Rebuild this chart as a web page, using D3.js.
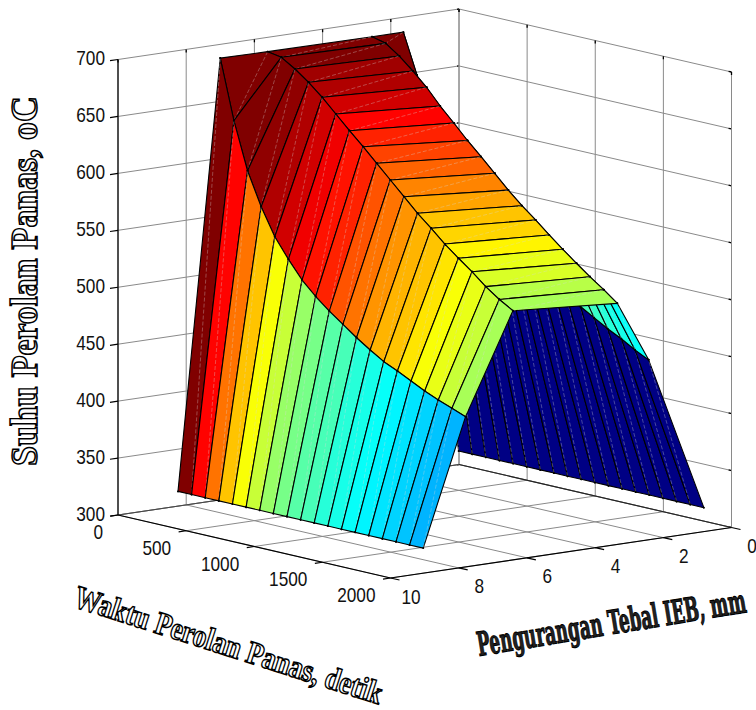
<!DOCTYPE html>
<html>
<head>
<meta charset="utf-8">
<script src="https://cdn.jsdelivr.net/npm/d3@7"></script>
<style>
  body { margin: 0; background: #fff; }
  svg { display: block; }
  text { opacity: 0.999; }
  .tick { font-family: "Liberation Sans", Arial, sans-serif; font-size: 21px; fill: #111; }
  .title { font-weight: bold; stroke: #000; }
</style>
</head>
<body>
<script>
// axis ticks
const timeTicks = [0, 500, 1000, 1500, 2000]
const thickTicks = [0, 2, 4, 6, 8, 10]
const tempTicks = [300, 350, 400, 450, 500, 550, 600, 650, 700]

// surface grid
const times = [200, 300, 400, 500, 600, 700, 800, 900, 1000, 1100, 1200, 1300, 1400, 1500, 1600, 1700, 1800, 1900, 2000]
const thickness = [0.81, 2.43, 3.35, 6.41, 7.8, 9.04]

const tempAt081 = [321, 321, 321, 321, 321, 321, 321, 321, 321, 321, 321, 321, 321, 321, 321, 321, 321, 321, 321]
const tempAt243 = [696, 661, 628, 602, 580, 563, 549, 537, 527, 518, 510, 503, 496, 491, 484, 477, 471, 464, 458]
const tempAt335 = [696, 693, 684.6, 674.2, 662.7, 649, 636.9, 624.3, 612.8, 601, 589, 578.1, 568.3, 557.9, 548.1, 538.6, 529.5, 520.9, 511.7]
const tempAt641 = [696.5, 694.3, 686.8, 677.9, 667.5, 655.6, 643.7, 632.4, 620.6, 608.7, 596.8, 585, 574.6, 563.5, 553.8, 544.7, 534.4, 525.9, 518.8]
const tempAt780 = [697, 644.8, 603.6, 574.8, 551.2, 534.1, 518.7, 507, 497, 488.1, 479.1, 471.1, 463.6, 458.2, 452.2, 446.2, 441, 436.5, 431.9]
const tempAt904 = [322, 322, 322, 322, 322, 322, 322, 322, 322, 322, 322, 322, 322, 322, 322, 322, 322, 322, 322]
const temps = [tempAt081, tempAt243, tempAt335, tempAt641, tempAt780, tempAt904]

const width = 756
const height = 710

const svg = d3.select("body").append("svg")
    .attr("width", width)
    .attr("height", height)

// axis box in screen space, the view is orthographic
const tScale = d3.scaleLinear().domain([0, 2000]).range([0, 1])
const sScale = d3.scaleLinear().domain([10, 0]).range([0, 1])
const zScale = d3.scaleLinear().domain([300, 700]).range([0, 1])

function project(t, s, z) {
  const u = tScale(t), v = sScale(s), w = zScale(z)
  return [118 + 272.5 * u + 341 * v, 515 + 63 * u - 50.5 * v - 455.5 * w]
}

const line = d3.line()

function seg(g, a, b, color, w) {
  g.append("path")
      .attr("d", line([a, b]))
      .attr("fill", "none")
      .attr("stroke", color)
      .attr("stroke-width", w)
}

// small tick at the end of a grid line, pointing inwards along it
function stub(g, a, b, len) {
  const dx = b[0] - a[0], dy = b[1] - a[1], d = Math.hypot(dx, dy)
  seg(g, a, [a[0] + dx / d * len, a[1] + dy / d * len], "#000", 1.3)
}

const grid = svg.append("g")
const gridColor = "#8a8a8a"

for (const z of tempTicks) {
  const a = project(0, 10, z), b = project(0, 0, z), c = project(2000, 0, z)
  seg(grid, a, b, gridColor, 1)
  seg(grid, b, c, gridColor, 1)
  stub(grid, b, a, 2)
  stub(grid, c, b, 3)
}
for (const t of timeTicks) {
  const a = project(t, 10, 300), b = project(t, 0, 300), c = project(t, 0, 700)
  seg(grid, a, b, gridColor, 1)
  seg(grid, b, c, gridColor, 1)
  stub(grid, c, b, 3)
}
for (const s of thickTicks) {
  const a = project(0, s, 300), b = project(2000, s, 300), c = project(0, s, 700)
  seg(grid, a, b, gridColor, 1)
  seg(grid, a, c, gridColor, 1)
  stub(grid, c, a, 3)
}

// floor edges at the back
seg(grid, project(0, 10, 300), project(0, 0, 300), "#444", 1)
seg(grid, project(0, 0, 300), project(2000, 0, 300), "#222", 1.1)

// matlab jet, 64 steps
const jet = d3.scaleLinear()
    .domain([0, 1 / 8, 3 / 8, 5 / 8, 7 / 8, 1])
    .range(["rgb(0,0,132)", "rgb(0,0,255)", "rgb(0,255,255)", "rgb(255,255,0)", "rgb(255,0,0)", "rgb(128,0,0)"])
const zExtent = d3.extent(temps.flat())
const level = d3.scaleQuantize().domain(zExtent).range(d3.range(64).map(i => i / 63))
const color = z => jet(level(z))

// height field, so drawing far rows first is enough
const surface = svg.append("g")
for (let j = 0; j < thickness.length - 1; j++) {
  for (let i = 0; i < times.length - 1; i++) {
    const p00 = project(times[i], thickness[j], temps[j][i])
    const p10 = project(times[i + 1], thickness[j], temps[j][i + 1])
    const p11 = project(times[i + 1], thickness[j + 1], temps[j + 1][i + 1])
    const p01 = project(times[i], thickness[j + 1], temps[j + 1][i])
    surface.append("path")
        .attr("d", line([p00, p10, p11, p01]) + "Z")
        .attr("fill", color(temps[j][i]))
        .attr("stroke", "#000")
        .attr("stroke-width", 1.1)
        .attr("stroke-linejoin", "round")
    // the seam down each quad
    surface.append("path")
        .attr("d", line([p00, p11]))
        .attr("fill", "none")
        .attr("stroke", "#d8d8d8")
        .attr("stroke-opacity", 0.42)
        .attr("stroke-width", 0.8)
        .attr("stroke-dasharray", "4 2")
    for (const p of [p00, p10, p11, p01]) {
      surface.append("circle")
          .attr("cx", p[0])
          .attr("cy", p[1])
          .attr("r", 1)
          .attr("fill", "#000")
    }
  }
}

// front axes
const axes = svg.append("g")
seg(axes, project(0, 10, 300), project(0, 10, 700), "#000", 1.2)
seg(axes, project(0, 10, 300), project(2000, 10, 300), "#000", 1.2)
seg(axes, project(2000, 10, 300), project(2000, 0, 300), "#000", 1.2)

function label(text, x, y, anchor) {
  axes.append("text")
      .attr("class", "tick")
      .attr("text-anchor", anchor)
      .attr("transform", `translate(${x},${y}) scale(0.82,1)`)
      .attr("dy", "0.36em")
      .text(text)
}

for (const z of tempTicks) {
  const p = project(0, 10, z)
  seg(axes, p, [p[0] - 8, p[1] + 1.2], "#000", 1.2)
  label(z, p[0] - 13, p[1] - 2, "end")
}
for (const t of timeTicks) {
  const p = project(t, 10, 300)
  seg(axes, p, [p[0] - 7.5, p[1] + 1.1], "#000", 1.2)
  label(t, p[0] - 15, p[1] + 16.5, "end")
}
for (const s of thickTicks) {
  const p = project(2000, s, 300)
  seg(axes, p, [p[0] + 9, p[1] + 2], "#000", 1.2)
  label(s, p[0] + 20.5, p[1] + 18, "middle")
}

// squeezed with a scale so the outline keeps its weight
function title(text, x, y, angle, font, size, len, stroke, fill) {
  const node = svg.append("text")
      .attr("class", "title")
      .attr("font-family", font)
      .attr("font-size", size)
      .attr("fill", fill)
      .attr("stroke-width", stroke)
      .style("vector-effect", "non-scaling-stroke")
      .text(text)
  const natural = node.node().getComputedTextLength()
  node.attr("transform", `translate(${x},${y}) rotate(${angle}) scale(${len / natural},1)`)
}

title("Suhu Perolan Panas, oC", 37, 466, -90, "Liberation Serif", 37, 370, 1.5, "#fff")
title("Waktu Perolan Panas, detik", 72, 606, 17.8, "Liberation Serif", 32, 322, 1.4, "#fff")
title("Pengurangan Tebal IEB, mm", 479, 656, -9.3, "DejaVu Serif", 33, 272, 0.9, "#222")
</script>
</body>
</html>
